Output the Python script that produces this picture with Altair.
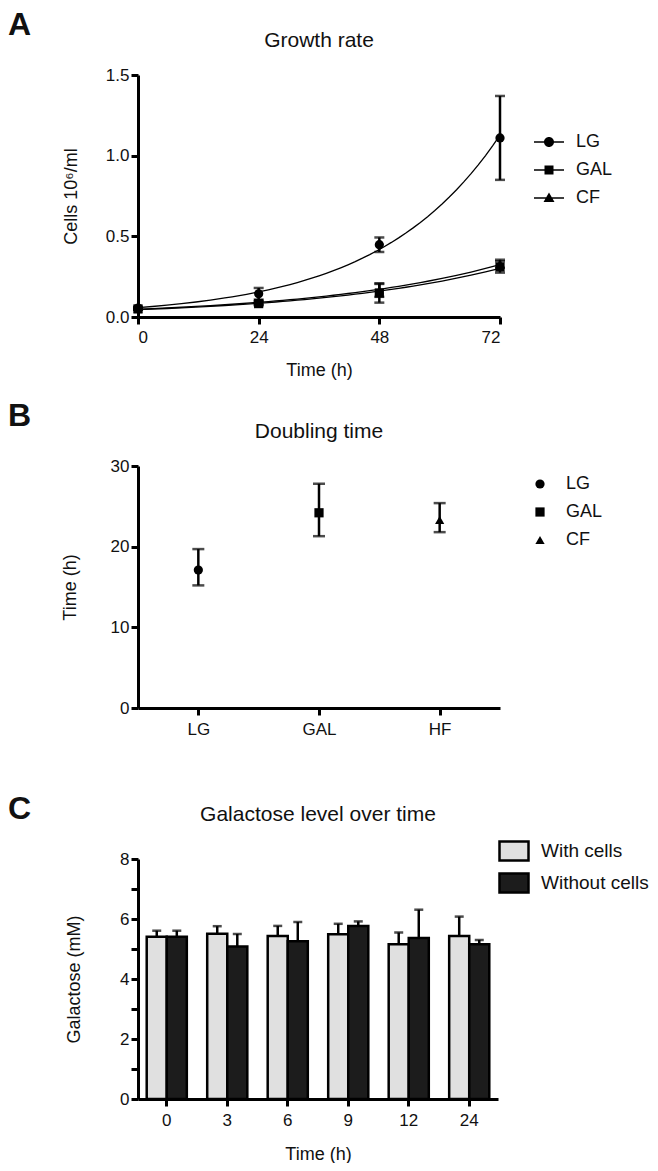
import altair as alt
import pandas as pd

FONT = "Liberation Sans"
INK = "#111111"

# ---------------- Panel A: growth rate ----------------
time_h = [0, 24, 48, 72]
series_a = ["LG", "GAL", "CF"]
lg_mean = [0.055, 0.144, 0.448, 1.11]
lg_err = [0.008, 0.036, 0.045, 0.26]
gal_mean = [0.05, 0.083, 0.149, 0.31]
gal_err = [0.006, 0.010, 0.060, 0.035]
cf_mean = [0.052, 0.088, 0.165, 0.33]
cf_err = [0.006, 0.010, 0.040, 0.025]

# ---------------- Panel B: doubling time ----------------
cats_b = ["LG", "GAL", "HF"]
series_b = ["LG", "GAL", "CF"]
dbl_mean = [17.1, 24.2, 23.3]
dbl_low = [15.2, 21.3, 21.8]
dbl_high = [19.7, 27.8, 25.4]

# ---------------- Panel C: galactose level ----------------
hours_c = ["0", "3", "6", "9", "12", "24"]
groups_c = ["With cells", "Without cells"]
with_cells = [5.41, 5.51, 5.43, 5.49, 5.16, 5.43]
with_err = [0.20, 0.25, 0.34, 0.35, 0.39, 0.65]
without_cells = [5.41, 5.08, 5.26, 5.77, 5.37, 5.16]
without_err = [0.20, 0.42, 0.64, 0.15, 0.94, 0.14]

shape_range = ["circle", "square", "triangle-up"]
# legend glyphs for panel A: a short line through the marker (filled outlines)
legend_glyphs = [
    "M-3,-0.15H-0.8V0.15H-3Z M0.8,-0.15H3V0.15H0.8Z M1,0A1,1,0,1,1,-1,0A1,1,0,1,1,1,0Z",
    "M-3,-0.15H-0.8V0.15H-3Z M0.8,-0.15H3V0.15H0.8Z M-0.9,-0.9H0.9V0.9H-0.9Z",
    "M-3,-0.15H-0.5V0.15H-3Z M0.5,-0.15H3V0.15H0.5Z M0,-1.1L1.1,0.8H-1.1Z",
]


def panel_texts(letter, title, width, title_y):
    lay = alt.Chart(pd.DataFrame({"t": [letter]})).mark_text(
        font=FONT, fontSize=32, fontWeight="bold", align="left",
        baseline="alphabetic", color=INK
    ).encode(text="t:N", x=alt.value(-130), y=alt.value(-40))
    ttl = alt.Chart(pd.DataFrame({"t": [title]})).mark_text(
        font=FONT, fontSize=21, align="center", baseline="alphabetic", color=INK
    ).encode(text="t:N", x=alt.value(width / 2), y=alt.value(title_y))
    return [lay, ttl]


# ---- A ----
rows = []
for s, means, errs in zip(series_a, [lg_mean, gal_mean, cf_mean], [lg_err, gal_err, cf_err]):
    for t, m, e in zip(time_h, means, errs):
        rows.append({"series": s, "time": t, "mean": m, "lo": m - e, "hi": m + e})
dfA = pd.DataFrame(rows)

xA = alt.X("time:Q", scale=alt.Scale(domain=[0, 72], nice=False, zero=False),
           axis=alt.Axis(values=time_h, title="Time (h)", titlePadding=16, labelPadding=5))
yA_scale = alt.Scale(domain=[0, 1.5], nice=False)
yA_axis = alt.Axis(values=[0, 0.5, 1.0, 1.5], format=".1f", title="Cells 10⁶/ml", titlePadding=25)

curves = alt.Chart(dfA).transform_regression(
    "time", "mean", method="exp", groupby=["series"]
).mark_line(color="black", strokeWidth=1.3).encode(
    x=xA, y=alt.Y("mean:Q", scale=yA_scale, axis=yA_axis), detail="series:N")

errA = alt.Chart(dfA).mark_errorbar(ticks=True, size=10, thickness=2.5, color="black").encode(
    x=xA, y=alt.Y("lo:Q", scale=yA_scale, axis=yA_axis), y2="hi:Q")

ptsA = alt.Chart(dfA).mark_point(filled=True, size=85, opacity=1, color="black").encode(
    x=xA, y=alt.Y("mean:Q", scale=yA_scale, axis=yA_axis),
    shape=alt.Shape("series:N", sort=series_a,
                    scale=alt.Scale(domain=series_a, range=shape_range), legend=None))

legA = alt.Chart(dfA).transform_filter("false").mark_point(
    filled=True, color="black", opacity=1, size=100
).encode(
    x=xA, y=alt.Y("mean:Q", scale=yA_scale, axis=yA_axis),
    shape=alt.Shape("series:N", sort=series_a,
                    scale=alt.Scale(domain=series_a, range=legend_glyphs),
                    legend=alt.Legend(
                        title=None, orient="none", legendX=402, legendY=58,
                        symbolSize=100, symbolFillColor="black", symbolOpacity=1,
                        labelFontSize=18, labelOffset=18, rowPadding=10, padding=0,
                        labelColor=INK)))

A = alt.layer(curves, errA, ptsA, legA, *panel_texts("A", "Growth rate", 362, -28)).resolve_scale(
    shape="independent").properties(width=362, height=242)

# ---- B ----
dfB = pd.DataFrame({"cat": cats_b, "series": series_b, "mean": dbl_mean,
                    "lo": dbl_low, "hi": dbl_high})
xB = alt.X("cat:N", sort=cats_b, scale=alt.Scale(type="point", padding=0.5),
           axis=alt.Axis(title=None, labelAngle=0, labelPadding=6))
yB_scale = alt.Scale(domain=[0, 30], nice=False)
yB_axis = alt.Axis(values=[0, 10, 20, 30], title="Time (h)", titlePadding=31)

errB = alt.Chart(dfB).mark_errorbar(ticks=True, size=12, thickness=2.5, color="black").encode(
    x=xB, y=alt.Y("lo:Q", scale=yB_scale, axis=yB_axis), y2="hi:Q")
ptsB = alt.Chart(dfB).mark_point(filled=True, size=85, opacity=1, color="black").encode(
    x=xB, y=alt.Y("mean:Q", scale=yB_scale, axis=yB_axis),
    shape=alt.Shape("series:N", sort=series_b,
                    scale=alt.Scale(domain=series_b, range=shape_range),
                    legend=alt.Legend(title=None, orient="none", legendX=393, legendY=9,
                                      symbolSize=85, labelFontSize=18, labelOffset=17,
                                      rowPadding=10, padding=0, labelColor=INK)))

B = alt.layer(errB, ptsB, *panel_texts("B", "Doubling time", 362, -28)).properties(
    width=362, height=242)

# ---- C ----
rowsC = []
for g, vals, errs in zip(groups_c, [with_cells, without_cells], [with_err, without_err]):
    for h, v, e in zip(hours_c, vals, errs):
        rowsC.append({"hour": h, "group": g, "mean": v, "hi": v + e})
dfC = pd.DataFrame(rowsC)

xC = alt.X("hour:N", sort=hours_c, scale=alt.Scale(paddingInner=0.337, paddingOuter=0.144),
           axis=alt.Axis(title="Time (h)", labelAngle=0, titlePadding=17, labelPadding=6))
xoC = alt.XOffset("group:N", sort=groups_c, scale=alt.Scale(paddingInner=0, paddingOuter=0))
yC_scale = alt.Scale(domain=[0, 8], nice=False)
yC_axis = alt.Axis(values=list(range(9)), labelExpr="datum.value % 2 == 0 ? datum.label : ''",
                   title="Galactose (mM)", titlePadding=36)

barsC = alt.Chart(dfC).mark_bar(stroke="black", strokeWidth=2.5).encode(
    x=xC, xOffset=xoC, y=alt.Y("mean:Q", scale=yC_scale, axis=yC_axis),
    fill=alt.Fill("group:N", sort=groups_c,
                  scale=alt.Scale(domain=groups_c, range=["#e0e0e0", "#1c1c1c"]),
                  legend=alt.Legend(title=None, orient="none", legendX=360, legendY=-24,
                                    symbolType="M-1,-0.66H1V0.66H-1Z", symbolSize=841,
                                    symbolStrokeColor="black", symbolStrokeWidth=2.5,
                                    labelFontSize=19, labelOffset=11, rowPadding=1,
                                    padding=0, labelColor=INK)))
ruleC = alt.Chart(dfC).mark_rule(color="black", strokeWidth=2.5).encode(
    x=xC, xOffset=xoC, y=alt.Y("mean:Q", scale=yC_scale, axis=yC_axis), y2="hi:Q")
capC = alt.Chart(dfC).mark_tick(color="black", thickness=2.5, size=9).encode(
    x=xC, xOffset=xoC, y=alt.Y("hi:Q", scale=yC_scale, axis=yC_axis))

C = alt.layer(barsC, ruleC, capC, *panel_texts("C", "Galactose level over time", 360, -38)).properties(
    width=360, height=240)

inner = alt.vconcat(B, C, spacing=56).resolve_scale(shape="independent", fill="independent")
chart = alt.vconcat(A, inner, spacing=21).resolve_scale(
    shape="independent", fill="independent").properties(
    padding={"left": 0, "top": 1, "right": 0, "bottom": 0}
).configure(font=FONT).configure_view(stroke=None).configure_axis(
    domainColor="black", domainWidth=3, tickColor="black", tickWidth=3, tickSize=7,
    labelFont=FONT, labelFontSize=17, labelColor=INK, labelPadding=2,
    titleFont=FONT, titleFontSize=18, titleFontWeight="normal", titleColor=INK, grid=False
).configure_legend(labelFont=FONT)

chart.save("out.html", embed_options={"renderer": "svg", "actions": False})
